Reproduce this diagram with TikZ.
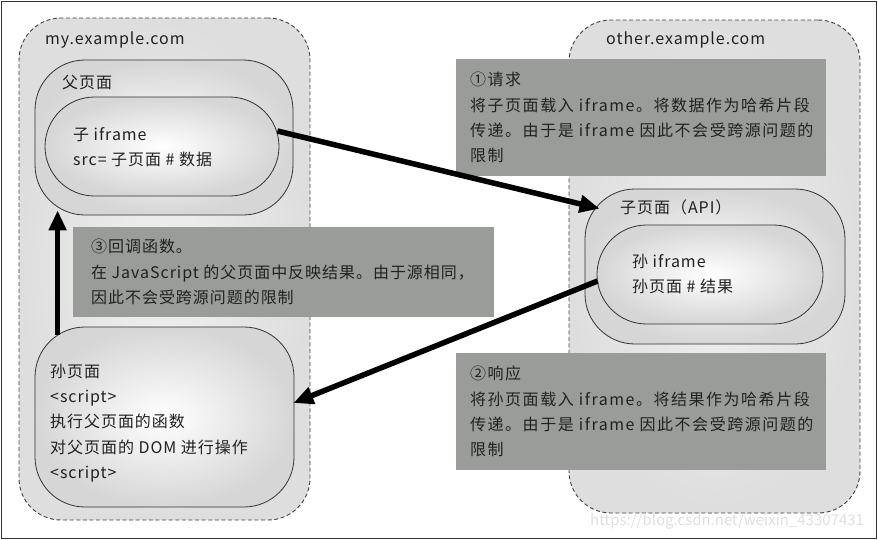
\documentclass[tikz,border=0pt]{standalone}
\usepackage{fontspec}
\setmainfont{Noto Sans CJK SC}
\usepackage{tikz}
\usetikzlibrary{arrows.meta,calc,shapes.misc}

\begin{document}
\begin{tikzpicture}[x=1pt,y=-1pt,
	sitebox/.style={draw=cdash,dash pattern=on 4pt off 2.6pt,line width=0.9pt,rounded corners=42pt,inner color=cdomin,outer color=cdomout},
	pagebox/.style={draw=cline,line width=0.8pt,rounded corners=50pt,inner color=white,outer color=cpageout},
	capsule/.style={draw=cline,line width=0.8pt,rounded rectangle,inner sep=0pt,inner color=white,outer color=cpageout},
	notebox/.style={fill=cnote,inner sep=0pt},
	txt/.style={anchor=west,align=left,inner sep=0pt,text=ctext,font=\fontsize{16}{25.4}\selectfont\addfontfeatures{LetterSpace=6}},
	notetxt/.style={txt,font=\fontsize{16}{25.4}\selectfont\addfontfeatures{LetterSpace=9.5}},
	link/.style={draw=black,line width=5.5pt,-{Triangle[length=20pt,width=17pt]}}]
					\definecolor{cline}{rgb}{0.2,0.2,0.2}
					\definecolor{cdash}{rgb}{0.25,0.25,0.25}
					\definecolor{cdomin}{rgb}{0.94,0.94,0.94}
					\definecolor{cdomout}{rgb}{0.87,0.87,0.87}
					\definecolor{cpageout}{rgb}{0.84,0.84,0.84}
					\definecolor{cnote}{rgb}{0.60,0.61,0.60}
					\definecolor{ctext}{rgb}{0.13,0.13,0.13}
					%
					\useasboundingbox (0,0) rectangle (878,539);
					\draw[cline,line width=0.9pt] (1.5,1) rectangle (876,538);
					%
					\node[sitebox,minimum width=291,minimum height=502] (myDomain) at (164.5,269) {};
					\node[sitebox,minimum width=291,minimum height=493] (otherDomain) at (714.5,266.5) {};
					\node[txt] (myName) at (45,40) {my.example.com};
					\node[txt] (otherName) at (606,40) {other.example.com};
					%
					\node[pagebox,minimum width=258,minimum height=155] (parentPage) at (164,137.5) {};
					\node[txt] (parentName) at (62,82) {父页面};
					\node[capsule,minimum width=234,minimum height=99] (iframeA) at (162,146.5) {};
					\node[txt] (iframeAText) at (73,147) {子 iframe\\src= 子页面 \# 数据};
					%
					\node[pagebox,minimum width=260,minimum height=155] (apiPage) at (715,266.5) {};
					\node[txt] (apiName) at (620,207) {子页面（API）};
					\node[capsule,minimum width=226,minimum height=99] (iframeB) at (710,274.5) {};
					\node[txt] (iframeBText) at (632,274) {孙 iframe\\孙页面 \# 结果};
					%
					\node[pagebox,minimum width=259,minimum height=180] (grandPage) at (164.5,417) {};
					\node[txt] (grandText) at (50,423) {孙页面\\<script>\\执行父页面的函数\\对父页面的 DOM 进行操作\\<script>};
					%
					\node[notebox,minimum width=370,minimum height=117,anchor=north west] (noteReq) at (456,59) {};
					\node[notetxt] (noteReqText) at ($(noteReq.west)+(14,0)$) {①请求\\将子页面载入 iframe。将数据作为哈希片段\\传递。由于是 iframe 因此不会受跨源问题的\\限制};
					\node[notebox,minimum width=370,minimum height=117,anchor=north west] (noteRes) at (456,353) {};
					\node[notetxt] (noteResText) at ($(noteRes.west)+(14,0)$) {②响应\\将孙页面载入 iframe。将结果作为哈希片段\\传递。由于是 iframe 因此不会受跨源问题的\\限制};
					\node[notebox,minimum width=421,minimum height=90,anchor=north west] (noteCb) at (73,227) {};
					\node[txt] (noteCbText) at ($(noteCb.west)+(18,0)$) {③回调函数。\\在 JavaScript 的父页面中反映结果。由于源相同，\\因此不会受跨源问题的限制};
					%
					\node[txt,text=gray!25,font=\fontsize{15}{18}\selectfont] (mark) at (590,521) {https://blog.csdn.net/weixin\_43307431};
					%
					\draw[link] ($(iframeA.east)+(-2,-15.5)$) -- ($(apiPage.north west)+(15,20)$);
					\draw[link] ($(iframeB.west)+(1,6.5)$) -- ($(grandPage.east)+(-1,-14)$);
					\draw[link] ($(grandPage.north west)+(23,8)$) -- ($(parentPage.south west)+(23,-5)$);
					%
				\end{tikzpicture}
\end{document}
